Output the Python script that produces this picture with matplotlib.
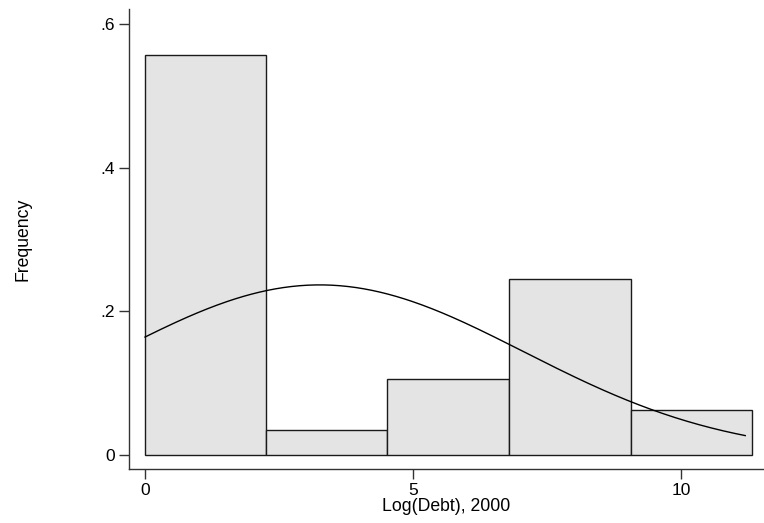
import matplotlib
matplotlib.use('Agg')
from matplotlib import pyplot as plt
import numpy as np

# histogram of Log(Debt), 2000 (fraction per bin)
bin_edges = [0.0, 2.26, 4.52, 6.79, 9.06, 11.32]
fractions = [0.558, 0.035, 0.106, 0.245, 0.062]

# normal density overlay (mean, sd of the data), scaled to bin width
mu, sigma = 3.26, 3.81
x_min, x_max = 0.0, 11.2

plt.rcParams['font.family'] = ['Liberation Sans', 'DejaVu Sans']

fig = plt.figure(figsize=(7.64, 5.23), dpi=100)
ax = fig.add_axes([0.1688, 0.1033, 0.8312, 0.8795])

widths = np.diff(bin_edges)
ax.bar(bin_edges[:-1], fractions, width=widths, align='edge',
       color='#e4e4e4', edgecolor='#1a1a1a', linewidth=1.0)

xs = np.linspace(x_min, x_max, 300)
width = widths.mean()
dens = width / (sigma * np.sqrt(2 * np.pi)) * np.exp(-(xs - mu) ** 2 / (2 * sigma ** 2))
ax.plot(xs, dens, color='black', linewidth=1.0)

ax.set_xlim(-0.30, 11.55)
ax.set_ylim(-0.0195, 0.6216)
ax.set_xticks([0, 5, 10])
ax.set_xticklabels(['0', '5', '10'])
ax.set_yticks([0, 0.2, 0.4, 0.6])
ax.set_yticklabels(['0', '.2', '.4', '.6'])
ax.tick_params(direction='out', length=7, width=1, labelsize=12.5, color='#333333', pad=3)

for side in ['top', 'right']:
    ax.spines[side].set_visible(False)
for side in ['left', 'bottom']:
    ax.spines[side].set_color('#333333')
    ax.spines[side].set_linewidth(1.0)

ax.set_xlabel('Log(Debt), 2000', fontsize=12.7, labelpad=0)
ax.set_ylabel('Frequency', fontsize=12.7, labelpad=50)

fig.savefig('out.png', dpi=100)
